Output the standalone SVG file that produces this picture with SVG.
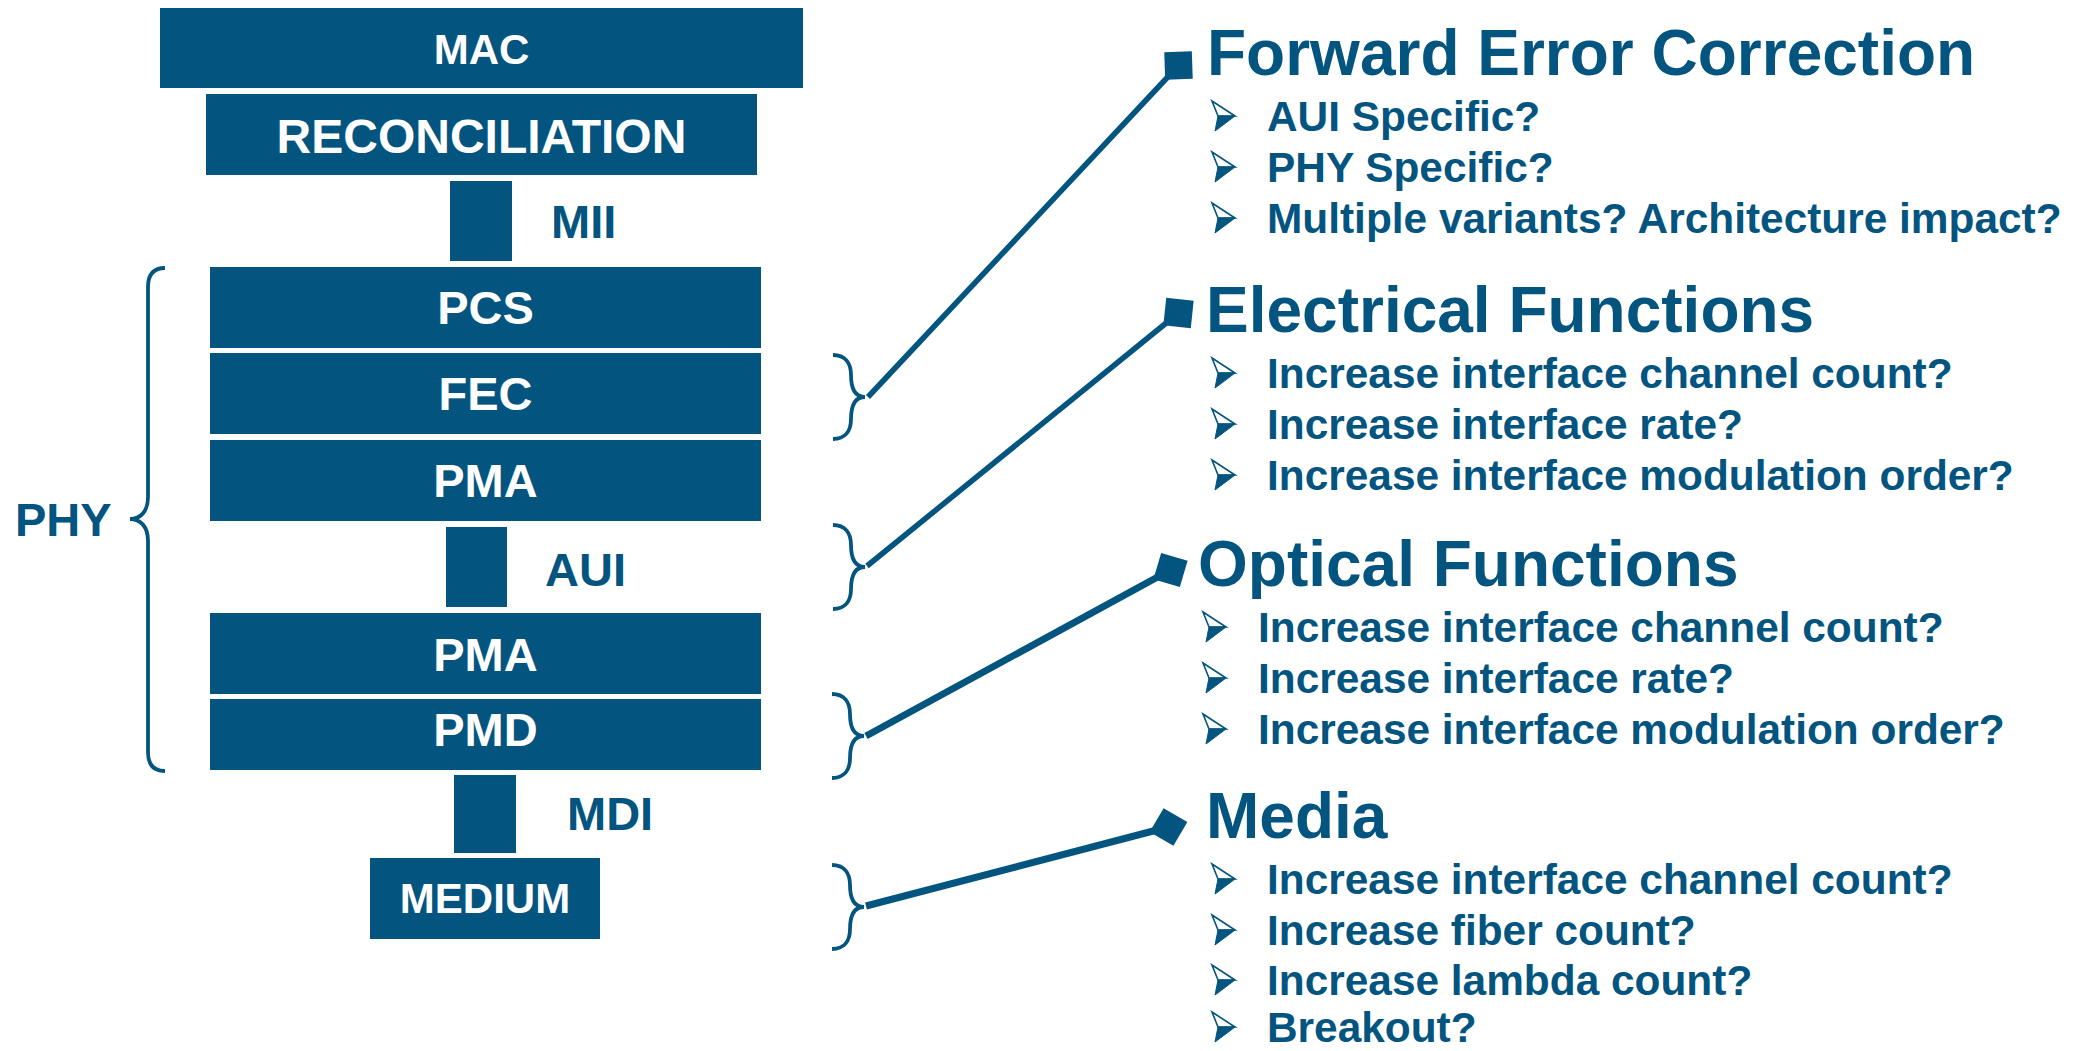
<svg xmlns="http://www.w3.org/2000/svg" width="2090" height="1051" viewBox="0 0 2090 1051">
<style>
.box{fill:#03557F}
.bt{font-family:"Liberation Sans",Arial,sans-serif;font-weight:bold;fill:#FFFFFF;text-anchor:middle;font-size:47px}
.lbl{font-family:"Liberation Sans",Arial,sans-serif;font-weight:bold;fill:#03557F;font-size:47px}
.ttl{font-family:"Liberation Sans",Arial,sans-serif;font-weight:bold;fill:#03557F;font-size:64px}
.itm{font-family:"Liberation Sans",Arial,sans-serif;font-weight:bold;fill:#03557F;font-size:42.4px}
.brace{fill:none;stroke:#03557F;stroke-width:3.8;stroke-linecap:butt}
.conn{fill:none;stroke:#03557F;marker-end:url(#dia)}
</style>
<defs>
<marker id="dia" markerUnits="userSpaceOnUse" viewBox="-21 -21 42 42" markerWidth="42" markerHeight="42" refX="0" refY="0" orient="auto">
<path d="M-19.5,0 L0,-19.5 L19.5,0 L0,19.5 Z" fill="#03557F"/>
</marker>
<g id="bul">
<path d="M-55,-30 L-32,-15 L-49,-15 Z" fill="#FFFFFF" stroke="#03557F" stroke-width="1.6" stroke-linejoin="miter"/>
<path d="M-49,-15 L-32,-15 L-52,0 Z" fill="#03557F" stroke="#03557F" stroke-width="1"/>
</g>
<path id="rbr" d="M-32,-42 C-20,-42 -14,-34 -14,-22 C-14,-8 -10,0 0,0 C-10,0 -14,8 -14,22 C-14,34 -20,42 -32,42"/>
</defs>

<g id="node-mac"><rect class="box" x="160" y="8" width="643" height="80"/><text class="bt" x="481.5" y="64" style="font-size:42px">MAC</text></g>
<g id="node-reconciliation"><rect class="box" x="206" y="94" width="551" height="81"/><text class="bt" x="481.5" y="153" style="font-size:48px">RECONCILIATION</text></g>
<g id="node-mii"><rect class="box" x="450" y="181" width="62" height="80"/><text class="lbl" x="551" y="238">MII</text></g>
<g id="node-pcs"><rect class="box" x="210" y="267" width="551" height="81"/><text class="bt" x="485.5" y="324">PCS</text></g>
<g id="node-fec"><rect class="box" x="210" y="353" width="551" height="81"/><text class="bt" x="485.5" y="410">FEC</text></g>
<g id="node-pma1"><rect class="box" x="210" y="440" width="551" height="81"/><text class="bt" x="485.5" y="497">PMA</text></g>
<g id="node-aui"><rect class="box" x="446" y="527" width="61" height="80"/><text class="lbl" x="545" y="586">AUI</text></g>
<g id="node-pma2"><rect class="box" x="210" y="613" width="551" height="81"/><text class="bt" x="485.5" y="671">PMA</text></g>
<g id="node-pmd"><rect class="box" x="210" y="699" width="551" height="71"/><text class="bt" x="485.5" y="746">PMD</text></g>
<g id="node-mdi"><rect class="box" x="454" y="775" width="62" height="78"/><text class="lbl" x="567" y="830">MDI</text></g>
<g id="node-medium"><rect class="box" x="370" y="858" width="230" height="81"/><text class="bt" x="485" y="913" style="font-size:42px">MEDIUM</text></g>

<g id="node-phy">
<path class="brace" d="M165,268 C153,268 148,275 148,287 L148,497 C148,512 140,519 130,519 C140,519 148,526 148,541 L148,752 C148,764 153,771 165,771"/>
<text class="lbl" x="15" y="536">PHY</text>
</g>

<g id="node-fec-notes">
<text class="ttl" x="1207" y="75">Forward Error Correction</text>
<use href="#bul" x="1267" y="131"/><text class="itm" x="1267" y="131">AUI Specific?</text>
<use href="#bul" x="1267" y="182"/><text class="itm" x="1267" y="182">PHY Specific?</text>
<use href="#bul" x="1267" y="233"/><text class="itm" x="1267" y="233">Multiple variants? Architecture impact?</text>
</g>
<g id="node-electrical">
<text class="ttl" x="1206" y="332">Electrical Functions</text>
<use href="#bul" x="1267" y="388"/><text class="itm" x="1267" y="388">Increase interface channel count?</text>
<use href="#bul" x="1267" y="439"/><text class="itm" x="1267" y="439">Increase interface rate?</text>
<use href="#bul" x="1267" y="490"/><text class="itm" x="1267" y="490">Increase interface modulation order?</text>
</g>
<g id="node-optical">
<text class="ttl" x="1198" y="586">Optical Functions</text>
<use href="#bul" x="1258" y="642"/><text class="itm" x="1258" y="642">Increase interface channel count?</text>
<use href="#bul" x="1258" y="693"/><text class="itm" x="1258" y="693">Increase interface rate?</text>
<use href="#bul" x="1258" y="744"/><text class="itm" x="1258" y="744">Increase interface modulation order?</text>
</g>
<g id="node-media">
<text class="ttl" x="1206" y="838">Media</text>
<use href="#bul" x="1267" y="894"/><text class="itm" x="1267" y="894">Increase interface channel count?</text>
<use href="#bul" x="1267" y="945"/><text class="itm" x="1267" y="945">Increase fiber count?</text>
<use href="#bul" x="1267" y="995"/><text class="itm" x="1267" y="995">Increase lambda count?</text>
<use href="#bul" x="1267" y="1042"/><text class="itm" x="1267" y="1042">Breakout?</text>
</g>

<g id="connectors">
<use href="#rbr" class="brace" x="865" y="397"/>
<use href="#rbr" class="brace" x="865" y="567"/>
<use href="#rbr" class="brace" x="864" y="736"/>
<use href="#rbr" class="brace" x="864" y="907"/>
<path class="conn" style="stroke-width:5.5" d="M868,397 L1178.5,65.5"/>
<path class="conn" style="stroke-width:5.5" d="M867,566 L1178.5,313"/>
<path class="conn" style="stroke-width:7" d="M866,736 L1170.5,570"/>
<path class="conn" style="stroke-width:7" d="M866,906 L1168.5,827"/>
</g>
</svg>
